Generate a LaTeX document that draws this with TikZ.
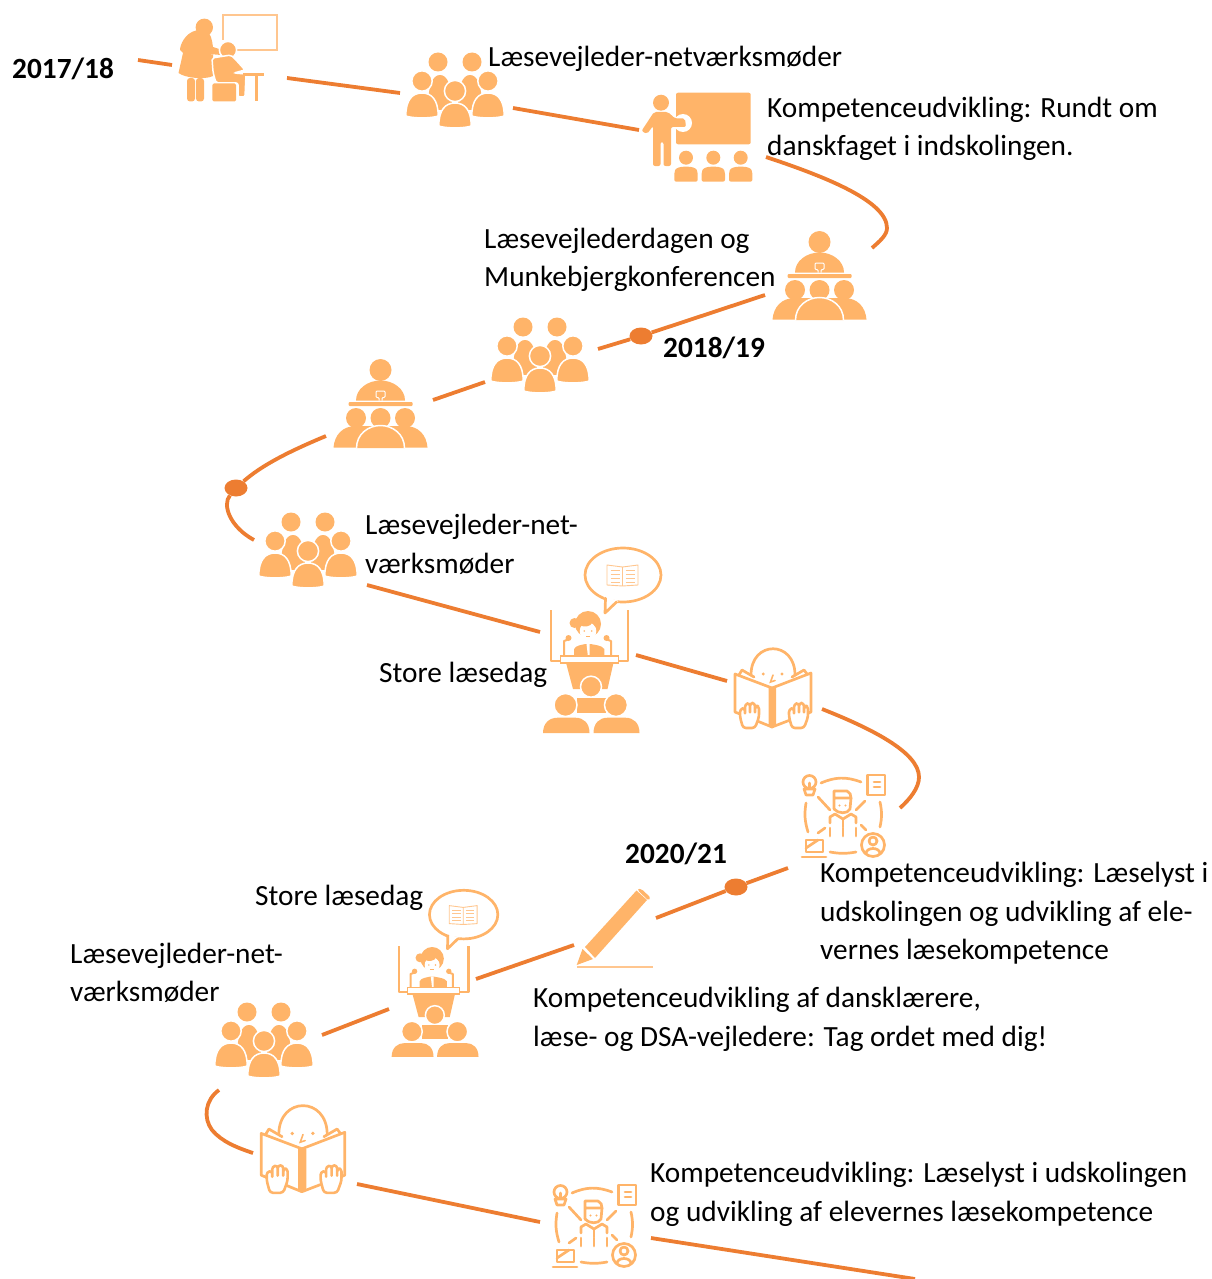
\documentclass[tikz,border=0pt]{standalone}
\usepackage{fontspec}
\usetikzlibrary{shapes.geometric}
\setmainfont{Carlito}
\definecolor{lineor}{HTML}{ED7D31}
\definecolor{iconor}{HTML}{FFB469}
\definecolor{iconli}{HTML}{FFC68F}
\newcommand{\domebody}[4]{({#1},#4) .. controls ({#1},{#3+0.3*(#4-#3)}) and ({#1+0.2*(#2-(#1))},#3) .. ({0.5*(#1+#2)},#3) .. controls ({#2-0.2*(#2-(#1))},#3) and ({#2},{#3+0.3*(#4-#3)}) .. ({#2},#4) .. controls ({#2-0.2*(#2-(#1))},{#4+2.5}) and ({#1+0.2*(#2-(#1))},{#4+2.5}) .. cycle}
\tikzset{
  conn/.style={draw=lineor,line width=3.8pt},
  waydot/.style={ellipse,fill=lineor,minimum width=23pt,minimum height=17pt,inner sep=0pt},
  lbl/.style={anchor=base west,inner sep=0pt,yshift=-.8pt,font=\fontsize{29.3}{35}\selectfont},
  yr/.style={anchor=base west,inner sep=0pt,yshift=-.8pt,font=\fontsize{29.3}{35}\selectfont\bfseries},
  ic/.style={fill=iconor,draw=white,line width=1.5pt},
  icn/.style={fill=iconor},
  ol/.style={draw=iconor,line width=2.7pt,line cap=round,line join=round},
  grp/.pic={
    \fill[icn] \domebody{-27}{-3}{-15}{18};
    \fill[icn] \domebody{3}{27}{-15}{18};
    \foreach \cx/\cy in {-17/-28,17/-28}{\fill[icn] (\cx,\cy) circle[radius=9.5];}
    \foreach \cx/\cy/\by in {-33/-9/3,33/-9/3}{
      \draw[ic] (\cx,\cy) circle[radius=10.2];
      \draw[ic] \domebody{\cx-16.2}{\cx+16.2}{\by}{26};}
    \draw[ic] (0,1) circle[radius=10.6];
    \draw[ic] \domebody{-16.2}{16.2}{13}{36};
  },
  podgrp/.pic={
    \fill[icn] (0,-43) circle[radius=11];
    \fill[icn] (-24.5,-12.5) .. controls (-24.5,-24) and (-13,-32.5) .. (0,-32.5) .. controls (13,-32.5) and (24.5,-24) .. (24.5,-12.5) -- cycle;
    \draw[white,line width=1pt,rounded corners=1pt] (-1.5,-12.5)--(-1.5,-15.5)--(-4.5,-15.5)--(-4.5,-22)--(4.5,-22)--(4.5,-15.5)--(1.5,-15.5)--(1.5,-12.5);
    \fill[icn,rounded corners=1pt] (-32,-11) rectangle (32,-7);
    \fill[icn] (-47,34.5) .. controls (-46,22) and (-38,13) .. (-24.5,13) -- (24.5,13) .. controls (38,13) and (46,22) .. (47,34.5) -- cycle;
    \fill[icn] (-24.5,5) circle[radius=10] (24.5,5) circle[radius=10] (0,5) circle[radius=10];
    \draw[ic] (-24,35) .. controls (-24,21) and (-12,12.5) .. (0,12.5) .. controls (12,12.5) and (24,21) .. (24,35);
  },
  speaker/.pic={
    \draw[ol] (33.5,-86) ellipse[x radius=38,y radius=27];
    \fill[white] (15,-65) -- (29,-60) -- (16,-50) -- cycle;
    \draw[ol] (16,-62.7) -- (15.5,-48) -- (27,-59);
    \draw[iconli,line width=.9pt,line join=round] (17.5,-96) -- (33,-94) -- (48.5,-96) -- (48.5,-76) -- (33,-75) -- (17.5,-76) -- cycle (33,-94) -- (33,-75);
    \foreach \ly in {-91,-87,-83,-79}{\draw[iconli,line width=.9pt] (21,\ly) -- (30,\ly) (36,\ly) -- (45,\ly);}
    \draw[ol,line cap=butt] (-38.5,-51) -- (-38.5,0) -- (38.5,0) -- (38.5,-51);
    \draw[ol,line cap=butt,line width=2pt] (-25.5,-5) -- (-25.5,-20) -- (-20,-22);
    \draw[ol,line cap=butt,line width=2pt] (21.5,-5) -- (21.5,-20) -- (16,-22);
    \fill[icn] (-21,-23) circle[radius=3] (17,-23) circle[radius=3];
    \fill[icn] (-1.5,-37) circle[radius=13];
    \fill[icn] (-15,-38) circle[radius=5];
    \fill[icn] (-15.5,-4) -- (-15.5,-12) .. controls (-13,-16) and (-8,-16) .. (-4,-17) -- (1,-17) .. controls (5,-16) and (12,-16) .. (14.8,-12) -- (14.8,-4) -- cycle;
    \fill[white] (-1.5,-30) ellipse[x radius=8.3,y radius=8.5];
    \fill[icn] (-9.8,-36) .. controls (-6,-33.5) and (1,-34) .. (3,-38.5) .. controls (4,-35.5) and (6,-34.5) .. (6.8,-34) -- (8,-42) -- (-9,-42) -- cycle;
    \fill[icn] (-5.2,-30) circle[radius=.9] (2.2,-30) circle[radius=.9];
    \fill[icn] (-3.5,-25.5) rectangle (.5,-24.5);
    \fill[white] (-3,-17) -- (0,-17) -- (0,-4) -- (-1.5,-4) -- cycle;
    \fill[icn] (-23.5,1.7) -- (24,1.7) -- (18,28) -- (-16.5,28) -- cycle;
    \draw[draw=iconor,fill=white,line width=1.6pt] (-29,-5) rectangle (29,2);
    \draw[ic] (1.5,25.7) circle[radius=10.5];
    \fill[icn] (-13,37) rectangle (16.5,52);
    \draw[ic] (-24,44) circle[radius=11.5];
    \draw[ic] (26.5,44) circle[radius=11.5];
    \fill[icn] (-46.5,72) .. controls (-46.5,62) and (-40,56.7) .. (-32,56.7) -- (-14,56.7) .. controls (-6,56.7) and (0,62) .. (0,72) -- cycle;
    \fill[icn] (4,72) .. controls (4,62) and (10,56.7) .. (18,56.7) -- (36,56.7) .. controls (44,56.7) and (50,62) .. (50,72) -- cycle;
  },
  reader/.pic={
    \draw[ol] (-22,-15) .. controls (-22,-50) and (22,-50) .. (22,-15);
    \fill[icn] (-9.8,-16) circle[radius=1.7] (9,-16) circle[radius=1.7];
    \draw[draw=iconor,line width=1.6pt,line cap=round] (0,-15) -- (-2.5,-8) -- (2,-9.5);
    \draw[ol] (-34,-15) -- (-31,-20) -- (-19,-13);
    \draw[ol] (34,-16) -- (31,-20) -- (19,-13);
    \draw[ol] (-38,-16) -- (-1,-2) -- (-1,37) -- (-38,22) -- cycle;
    \draw[ol] (38,-17) -- (-1,-2) -- (-1,37) -- (38,22) -- cycle;
    \fill[icn] (-4.5,-2) -- (3,-2) -- (3,35) -- (-1,37) -- (-4.5,35) -- cycle;
    \foreach \hx in {-23,26}{
      \draw[draw=iconor,fill=white,line width=2.6pt,line join=round,rounded corners=3pt]
        (\hx-10,19) -- (\hx-10,27) -- (\hx-7,38) -- (\hx+5,38) -- (\hx+9,27) -- (\hx+9,16) -- (\hx+5,16) -- (\hx+5,24) -- (\hx+5,13) -- (\hx,13) -- (\hx,24) -- (\hx,13) -- (\hx-5,14) -- (\hx-5,25) -- (\hx-5,18) -- cycle;
    }
  },
  expert/.pic={
    \draw[ol] (-22,-32) to[bend left=22] (18,-33);
    \draw[ol] (37,-13) to[bend left=12] (37,12);
    \draw[ol] (-37,-12) to[bend right=13] (-35,17);
    \draw[ol] (-13,37) to[bend right=10] (13,37);
    \draw[ol] (-25,-18) -- (-13,-5);
    \draw[ol] (13,-5) -- (22,-14);
    \draw[ol] (-25,18) -- (-18,13);
    \draw[ol] (18,10) -- (23,15);
    \draw[ol] (-13,13) -- (-13,21) (0,13) -- (0,21) (13,13) -- (13,21);
    % bulb
    \draw[ol] (-33.5,-33) circle[radius=6.5];
    \draw[ol] (-39,-26) -- (-28,-26) -- (-30,-20) -- (-37,-20) -- cycle;
    \draw[ol] (-33.5,-32) -- (-33.5,-27);
    % document
    \draw[ol] (24.5,-40) -- (42,-40) -- (42,-20) -- (24.5,-20) -- cycle;
    \draw[ol] (31,-33) -- (37,-33) (31,-28) -- (37,-28);
    % laptop
    \draw[ol] (-37,25) -- (-20,25) -- (-20,37) -- (-37,37) -- cycle;
    \draw[ol] (-41,42) -- (-17,42);
    \draw[ol] (-37,33) -- (-25,25);
    % user badge
    \draw[ol] (30,30) circle[radius=11.5];
    \draw[ol] (30,26) circle[radius=4];
    \draw[ol] (23,38) .. controls (24,32) and (36,32) .. (37,38);
    % person
    \draw[ol] (-9,-6) -- (-9,-24) -- (4,-24) .. controls (7,-23) and (8,-20) .. (8,-17) -- (-9,-17);
    \draw[ol] (8,-17) -- (7,-6) .. controls (5,-1) and (-5,-1) .. (-9,-6);
    \fill[icn] (-3.5,-9.5) circle[radius=1.1] (2.5,-9.5) circle[radius=1.1];
    \draw[ol] (-13,8) -- (-13,2) -- (-8,-1) -- (0,4) -- (8,-1) -- (13,2) -- (13,8);
    \draw[ol] (0,4) -- (0,12);
  },
}
\begin{document}
\begin{tikzpicture}[x=1pt,y=-1pt]
\useasboundingbox (0,0) rectangle (1211,1279);

% free ends of the route
\coordinate (a1) at (138,60);   \coordinate (a2) at (172,65);
\coordinate (b1) at (287,78);   \coordinate (b2) at (400,93);
\coordinate (c1) at (513,108);  \coordinate (c2) at (639,130);
\coordinate (d1) at (766,157);  \coordinate (d2) at (872,248);
\coordinate (e1) at (765,295);
\coordinate (f2) at (598,349);
\coordinate (g1) at (485,382);  \coordinate (g2) at (433,400);
\coordinate (h1) at (326,436);
\coordinate (i2) at (254,540);
\coordinate (j1) at (367,585);  \coordinate (j2) at (540,632);
\coordinate (k1) at (636,655);  \coordinate (k2) at (727,681);
\coordinate (l1) at (822,709);  \coordinate (l2) at (900,808);
\coordinate (m1) at (788,868);
\coordinate (n2) at (656,918);
\coordinate (o1) at (574,945);  \coordinate (o2) at (476,979);
\coordinate (p1) at (389,1009); \coordinate (p2) at (322,1035);
\coordinate (q1) at (219,1090); \coordinate (q2) at (253,1153);
\coordinate (r1) at (357,1184); \coordinate (r2) at (540,1222);
\coordinate (s1) at (651,1238); \coordinate (s2) at (915,1279);

\node[waydot] (dotA) at (641,336) {};
\node[waydot] (dotB) at (236,488) {};
\node[waydot] (dotC) at (736,887) {};

\draw[conn] (a1) -- (a2);
\draw[conn] (b1) -- (b2);
\draw[conn] (c1) -- (c2);
\draw[conn] (d1) .. controls (820,175) and (887,200) .. (887,228) .. controls (887,235) and (880,241) .. (d2);
\draw[conn] (e1) -- (dotA);
\draw[conn] (dotA) -- (f2);
\draw[conn] (g1) -- (g2);
\draw[conn] (h1) .. controls (290,451) and (262,465) .. (dotB);
\draw[conn] (dotB) .. controls (222,505) and (230,527) .. (i2);
\draw[conn] (j1) -- (j2);
\draw[conn] (k1) -- (k2);
\draw[conn] (l1) .. controls (870,728) and (919,752) .. (919,777) .. controls (919,788) and (910,799) .. (l2);
\draw[conn] (m1) -- (dotC);
\draw[conn] (dotC) -- (n2);
\draw[conn] (o1) -- (o2);
\draw[conn] (p1) -- (p2);
\draw[conn] (q1) .. controls (205,1100) and (203,1118) .. (212,1130) .. controls (222,1142) and (238,1148) .. (q2);
\draw[conn] (r1) -- (r2);
\draw[conn] (s1) -- (s2);

% teacher and pupil
\draw[draw=iconli,line width=2pt] (222.7,40) -- (222.7,14.7) -- (277.3,14.7) -- (277.3,50) -- (237,50);
\fill[icn] (204.3,27.3) circle[radius=8.7];
\fill[icn] (196,30.5) .. controls (185,33) and (180,45) .. (180,50) .. controls (181,52) and (182,52) .. (183,53) -- (178.5,73) .. controls (185,78) and (205,80) .. (213,76) -- (213,55) -- (209,54) -- (221,55) .. controls (224,54) and (222,49) .. (219,49) -- (213,47) .. controls (212,40) and (211,33) .. (206,31) -- cycle;
\fill[icn,rounded corners=3pt] (187,78) rectangle (195,101.5);
\fill[icn,rounded corners=3pt] (196,78) rectangle (204,101.5);
\draw[ic] (228,50) circle[radius=8.6];
\draw[ic,rounded corners=2pt] (212,58) -- (231,55) -- (236,60) -- (245,70) -- (234,73) -- (246,74) -- (245,97) -- (238,97) -- (238,83) -- (216,83) -- (213,72) -- cycle;
\fill[icn,rounded corners=1.5pt] (212.3,83.5) rectangle (236,101.5);
\fill[icn] (243,72.7) rectangle (263.5,76.5);
\fill[icn] (255,76) rectangle (257.7,101);

% group icons
\pic at (455,90) {grp};
\pic at (540,355) {grp};
\pic at (308,550) {grp};
\pic at (264,1040) {grp};

% presenter at board
\fill[icn,rounded corners=2pt] (676,92.7) rectangle (750.7,144.3);
\fill[white] (683,123) circle[radius=9];
\fill[icn] (661,102.7) circle[radius=8];
\fill[icn,rounded corners=2pt] (654,112) -- (668,112) -- (675,118.5) -- (685,118.5) -- (686,127) -- (671,127) -- (671,166) -- (663.5,166) -- (663.5,142) -- (660.5,142) -- (660.5,166) -- (653,166) -- (653,126) -- (647,134) -- (641.5,131) -- cycle;
\foreach \ax in {686,713.3,740.7}{
  \fill[icn] (\ax,157.7) circle[radius=7];
  \fill[icn,rounded corners=2pt] (\ax-11.7,181.7) -- (\ax-11.7,172) .. controls (\ax-10,168) and (\ax-6,166.7) .. (\ax,166.7) .. controls (\ax+6,166.7) and (\ax+10,168) .. (\ax+11.7,172) -- (\ax+11.7,181.7) -- cycle;
}

% podium groups
\pic at (819.5,285) {podgrp};
\pic at (380.5,413) {podgrp};

% speakers
\pic at (589.5,661) {speaker};
\pic[scale=.9] at (433.5,992) {speaker};

% readers
\pic at (773,690) {reader};
\pic[scale=1.1] at (303,1151) {reader};

% experts
\pic at (843,815) {expert};
\pic at (594,1225) {expert};

% pencil
\fill[icn] (585,947) -- (636.5,890.5) -- (647,900) -- (595,958) -- cycle;
\fill[icn,rounded corners=1.5pt] (638,888.5) -- (642,889.5) -- (650.5,897.5) -- (648.5,900.5) -- (638,890.5) -- cycle;
\fill[icn] (576.7,965) -- (582.5,949) -- (593,959) -- cycle;
\draw[draw=iconli,line width=2pt] (577,966.7) -- (653,966.7);

% labels
\node[yr] (y1) at (12,78) {2017/18};
\node[yr] (y2) at (663,357) {2018/19};
\node[yr] (y3) at (625,863) {2020/21};
\node[lbl] (t1) at (488,66) {Læsevejleder-netværksmøder};
\node[lbl] (t2) at (767,117) {Kompetenceudvikling: Rundt om};
\node[lbl] (t3) at (767,155) {danskfaget i indskolingen.};
\node[lbl] (t4) at (484,248) {Læsevejlederdagen og};
\node[lbl] (t5) at (484,286) {Munkebjergkonferencen};
\node[lbl] (t6) at (365,534) {Læsevejleder-net-};
\node[lbl] (t7) at (365,573) {værksmøder};
\node[lbl] (t8) at (379,682) {Store læsedag};
\node[lbl] (t9) at (820,882) {Kompetenceudvikling: Læselyst i};
\node[lbl] (t10) at (820,921) {udskolingen og udvikling af ele-};
\node[lbl] (t11) at (820,959) {vernes læsekompetence};
\node[lbl] (t12) at (255,905) {Store læsedag};
\node[lbl] (t13) at (70,963) {Læsevejleder-net-};
\node[lbl] (t14) at (70,1001) {værksmøder};
\node[lbl] (t15) at (533,1007) {Kompetenceudvikling af dansklærere,};
\node[lbl] (t16) at (533,1046) {læse- og DSA-vejledere: Tag ordet med dig!};
\node[lbl] (t17) at (650,1182) {Kompetenceudvikling: Læselyst i udskolingen};
\node[lbl] (t18) at (650,1221) {og udvikling af elevernes læsekompetence};
\end{tikzpicture}
\end{document}
